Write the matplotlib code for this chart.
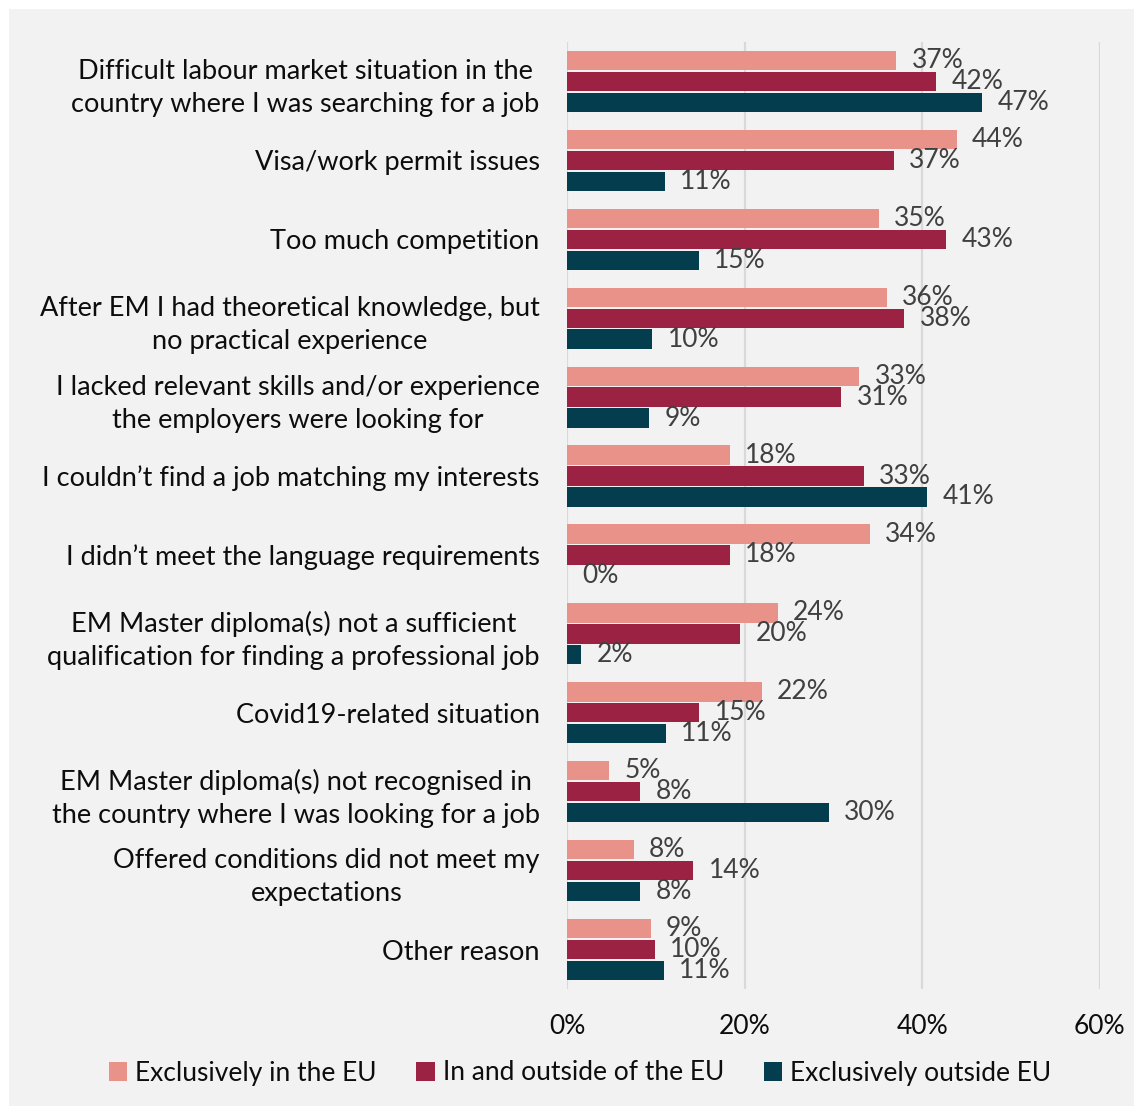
import matplotlib.pyplot as plt
from matplotlib.patches import Rectangle
import numpy as np

plt.rcParams['font.family'] = ['Lato', 'DejaVu Sans']

categories = [
    'Difficult labour market situation in the\ncountry where I was searching for a job',
    'Visa/work permit issues',
    'Too much competition',
    'After EM I had theoretical knowledge, but\nno practical experience',
    'I lacked relevant skills and/or experience\nthe employers were looking for',
    'I couldn\u2019t find a job matching my interests',
    'I didn\u2019t meet the language requirements',
    'EM Master diploma(s) not a sufficient\nqualification for finding a professional job',
    'Covid19-related situation',
    'EM Master diploma(s) not recognised in\nthe country where I was looking for a job',
    'Offered conditions did not meet my\nexpectations',
    'Other reason',
]

# percentages
in_eu = [37.1, 43.9, 35.1, 36.0, 32.9, 18.3, 34.1, 23.7, 21.9, 4.7, 7.5, 9.4]
in_and_out = [41.6, 36.8, 42.7, 38.0, 30.9, 33.4, 18.3, 19.5, 14.9, 8.2, 14.2, 9.85]
outside_eu = [46.8, 11.0, 14.8, 9.6, 9.2, 40.6, 0.0, 1.6, 11.1, 29.5, 8.2, 10.9]

series_names = ['Exclusively in the EU', 'In and outside of the EU', 'Exclusively outside EU']
colors = ['#E9928A', '#9B2242', '#033D4E']

W, H = 1134, 1106
fig = plt.figure(figsize=(W / 100, H / 100), dpi=100, facecolor='white')
fig.patches.append(Rectangle((9 / W, 0), 1 - 9 / W, 1 - 9 / H, transform=fig.transFigure,
                             facecolor='#F2F2F2', edgecolor='none', zorder=-10))

ax = fig.add_axes([567.3 / W, (H - 989) / H, 532.2 / W, 947 / H])
ax.set_facecolor('#F2F2F2')

y = np.arange(len(categories))
pitch = 0.265
bh = 0.245
for i, (vals, c) in enumerate(zip([in_eu, in_and_out, outside_eu], colors)):
    pos = y + (i - 1) * pitch
    ax.barh(pos, vals, height=bh, color=c, label=series_names[i], zorder=3)
    for p, v in zip(pos, vals):
        ax.annotate(f'{v:.0f}%', (v, p), xytext=(11, 0), textcoords='offset points',
                    ha='left', va='center', fontsize=19, color='#404040', zorder=4)

ax.set_xlim(0, 60)
ax.set_ylim(len(categories) - 0.5, -0.5)
ax.set_xticks([0, 20, 40, 60])
ax.set_xticklabels(['0%', '20%', '40%', '60%'])
ax.set_yticks(y)
ax.set_yticklabels(categories, multialignment='center', linespacing=1.4)
ax.tick_params(axis='y', length=0, pad=20, labelsize=19.5, labelcolor='#0d0d0d')
ax.tick_params(axis='x', length=0, pad=18, labelsize=19, labelcolor='#0d0d0d')
ax.grid(axis='x', color='#D9D9D9', linewidth=1.6, zorder=0)
ax.set_axisbelow(True)
for s in ax.spines.values():
    s.set_visible(False)

fig.legend(loc='center', bbox_to_anchor=(580 / W, 1 - 1073 / H), ncol=3, frameon=False,
           fontsize=19, handlelength=0.7, handleheight=0.7, handletextpad=0.3,
           columnspacing=1.5, labelcolor='#0d0d0d')

fig.savefig('out.png', dpi=100, facecolor=fig.get_facecolor())
